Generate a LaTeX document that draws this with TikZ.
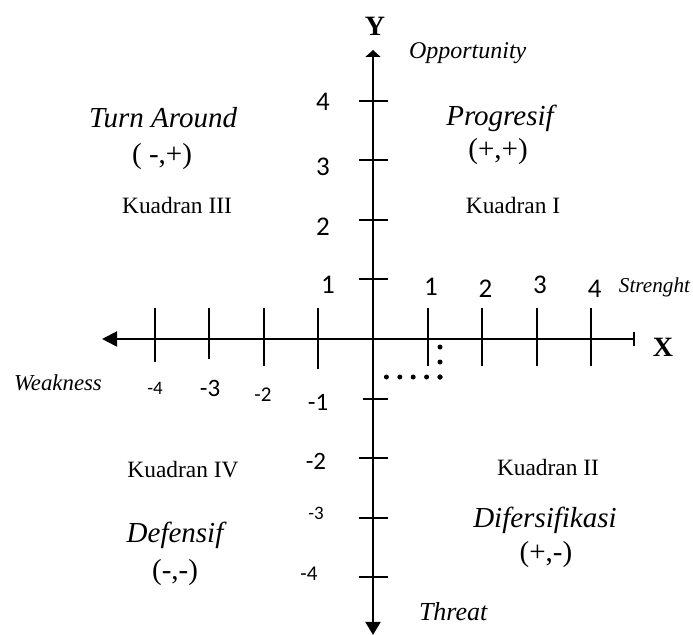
\documentclass[tikz,border=0pt]{standalone}
\usepackage{fontspec}
\setmainfont{Liberation Serif}
\newfontfamily\numfont{Carlito}
\usetikzlibrary{arrows.meta}

\begin{document}
\begin{tikzpicture}[x=27.3pt,y=29.8pt,line width=1pt,
  num/.style={font=\numfont\fontsize{13.5}{15}\selectfont},
  numsm/.style={font=\numfont\fontsize{10.5}{12}\selectfont},
  quad/.style={font=\fontsize{11.7}{14}\selectfont},
  strat/.style={font=\itshape\fontsize{14.5}{17}\selectfont},
  sign/.style={font=\fontsize{14.5}{17}\selectfont},
  side/.style={font=\itshape\fontsize{12}{14}\selectfont,inner sep=0pt},
  axlab/.style={font=\bfseries\fontsize{14}{16}\selectfont},
  dotline/.style={line width=2.5pt,line cap=round}]
\useasboundingbox (-6.832,-4.966) rectangle (5.861,5.688);
% axes
\coordinate (O) at (0,0);
\coordinate (xl) at (-4.963,0);
\coordinate (xr) at (4.8,0);
\coordinate (yt) at (0,4.849);
\coordinate (yb) at (0,-4.966);
\draw[{Bar[width=7pt]}-{Triangle[width=7.5pt,length=7.5pt]}] (xr) -- (xl);
\draw[{Triangle[width=7.5pt,length=6.5pt]}-{Triangle[width=7.5pt,length=3.5pt]}] (yb) -- (yt);
% ticks
\foreach \i/\b in {-4/0.39,-3/0.34,-2/0.45,-1/0.50,1/0.45,2/0.45,3/0.45,4/0.45}{\draw (\i,0.52) -- (\i,-\b);}
\foreach \j in {1,...,4,-2,-3,-4}{\draw (-0.256,\j) -- (0.275,\j);}
\draw (-0.183,-1) -- (0.275,-1);
% dotted point
\coordinate (pt) at (1.227,-0.134);
\coordinate (corner) at (1.227,-0.638);
\coordinate (yax) at (0,-0.638);
\draw[dotline,dash pattern=on 0pt off 7.5pt] (corner) -- (pt);
\draw[dotline,dash pattern=on 0pt off 6.7pt] (corner) -- (yax);
% axis labels
\node[axlab] (ylab) at (0.037,5.25) {Y};
\node[axlab] (xlab) at (5.31,-0.134) {X};
\node[side,anchor=west] (opp) at (0.641,4.80) {Opportunity};
\node[side,anchor=west,font=\itshape\fontsize{10.6}{12}\selectfont] (str) at (4.487,0.872) {Strenght};
\node[side,anchor=west,font=\itshape\fontsize{11.4}{13}\selectfont] (weak) at (-6.593,-0.738) {Weakness};
\node[side,anchor=west,font=\itshape\fontsize{13}{15}\selectfont] (thr) at (0.824,-4.58) {Threat};
% numbers
\foreach \j/\yy in {4/3.977,3/2.886,2/1.879}{\node[num] (yn\j) at (-0.916,\yy) {\j};}
\node[num] (yn1) at (-0.824,0.906) {1};
\node[num,font=\numfont\fontsize{12.5}{14}\selectfont] (ym1) at (-1.007,-1.057) {-1};
\node[num,font=\numfont\fontsize{12.5}{14}\selectfont] (ym2) at (-1.044,-2.047) {-2};
\node[numsm,font=\numfont\fontsize{9.5}{11}\selectfont] (ym3) at (-1.044,-2.919) {-3};
\node[numsm] (ym4) at (-1.172,-3.943) {-4};
\foreach \i/\yy in {1/0.872,2/0.839,3/0.906,4/0.839}{\node[num] (xn\i) at (\i+0.06,\yy) {\i};}
\node[numsm,font=\numfont\fontsize{9.5}{11}\selectfont] (xm4) at (-3.993,-0.822) {-4};
\node[num,font=\numfont\fontsize{12.5}{14}\selectfont] (xm3) at (-2.985,-0.822) {-3};
\node[numsm] (xm2) at (-2.015,-0.94) {-2};
% quadrants
\node[strat] (ta) at (-3.846,3.708) {Turn Around};
\node[sign] (tas) at (-3.864,3.054) {( -,+)};
\node[quad] (k3) at (-3.59,2.232) {Kuadran III};
\node[strat] (pr) at (2.326,3.708) {Progresif};
\node[sign] (prs) at (2.29,3.138) {(+,+)};
\node[quad] (k1) at (2.564,2.232) {Kuadran I};
\node[quad] (k4) at (-3.48,-2.198) {Kuadran IV};
\node[strat] (df) at (-3.626,-3.289) {Defensif};
\node[sign] (dfs) at (-3.626,-3.926) {(-,-)};
\node[quad] (k2) at (3.205,-2.164) {Kuadran II};
\node[strat] (dv) at (3.15,-3.037) {Difersifikasi};
\node[sign] (dvs) at (3.168,-3.624) {(+,-)};
\end{tikzpicture}
\end{document}
